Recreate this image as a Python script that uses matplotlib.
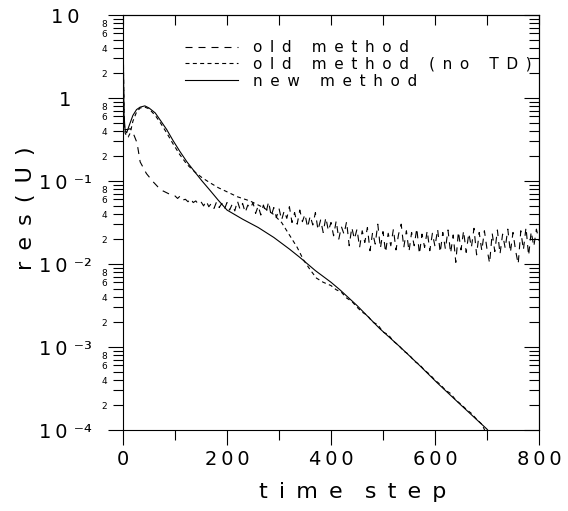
import numpy as np
import matplotlib
matplotlib.use('Agg')
import matplotlib.pyplot as plt

plt.rcParams['font.family'] = 'DejaVu Sans'

# ---- data (log10 of res(U)) ----
old_x_head = [0, 1, 2, 4, 8, 14, 20, 27, 33, 45, 58, 67, 77, 90]
old_log_head = [1.3, 0.2, -0.3, -0.38, -0.38, -0.37, -0.43, -0.54, -0.77, -0.91,
                -1.01, -1.07, -1.12, -1.16]
# noisy part, every 5 steps from 100 to 800
old_x_tail = np.arange(100, 805, 5)
old_log_tail = [
    -1.18, -1.21, -1.18, -1.23, -1.22, -1.25, -1.21, -1.26, -1.24, -1.28,
    -1.25, -1.30, -1.24, -1.31, -1.27, -1.33, -1.25, -1.32, -1.27, -1.34,
    -1.26, -1.35, -1.28, -1.36, -1.24, -1.34, -1.27, -1.38, -1.29, -1.33,
    -1.26, -1.39, -1.30, -1.41, -1.29, -1.38, -1.25, -1.42, -1.32, -1.44,
    -1.33, -1.47, -1.36, -1.45, -1.31, -1.50, -1.38, -1.52, -1.35, -1.49,
    -1.40, -1.56, -1.42, -1.53, -1.38, -1.59, -1.47, -1.62, -1.44, -1.60,
    -1.50, -1.66, -1.48, -1.70, -1.55, -1.64, -1.49, -1.78, -1.56, -1.70,
    -1.58, -1.80, -1.60, -1.74, -1.56, -1.84, -1.62, -1.76, -1.52, -1.81,
    -1.61, -1.86, -1.63, -1.78, -1.58, -1.83, -1.64, -1.52, -1.80, -1.60,
    -1.85, -1.62, -1.78, -1.57, -1.88, -1.64, -1.80, -1.60, -1.84, -1.63,
    -1.79, -1.58, -1.86, -1.62, -1.82, -1.59, -1.87, -1.65, -1.98, -1.61,
    -1.83, -1.60, -1.86, -1.63, -1.80, -1.57, -1.89, -1.62, -1.84, -1.60,
    -1.82, -1.99, -1.63, -1.85, -1.59, -1.88, -1.64, -1.81, -1.58, -1.86,
    -1.62, -1.84, -2.00, -1.60, -1.83, -1.56, -1.90, -1.61, -1.79, -1.58,
    -1.72]

notd_x = [0, 1, 2, 4, 7, 10, 14, 19, 26, 33, 42, 50, 62, 72, 84, 96, 109, 123,
          138, 152, 167, 183, 200, 220, 244, 270, 289, 305, 321, 335, 347, 360,
          372, 385, 400, 410, 420, 430, 440, 450, 460, 470, 480, 490, 500, 510,
          520, 530, 540, 550, 560, 570, 580, 590, 600, 610, 620, 630, 640, 650,
          660, 670, 680, 690, 697]
notd_log = [1.3, 0.3, -0.25, -0.42, -0.46, -0.47, -0.42, -0.28, -0.17, -0.12,
            -0.11, -0.13, -0.21, -0.30, -0.42, -0.55, -0.68, -0.80, -0.89, -0.96,
            -1.02, -1.08, -1.13, -1.19, -1.24, -1.32, -1.40, -1.50, -1.66, -1.80,
            -1.95, -2.07, -2.17, -2.22, -2.26, -2.31, -2.34, -2.41, -2.45, -2.52,
            -2.58, -2.62, -2.70, -2.73, -2.82, -2.85, -2.93, -2.98, -3.05, -3.09,
            -3.17, -3.21, -3.28, -3.33, -3.40, -3.45, -3.52, -3.56, -3.64, -3.69,
            -3.75, -3.80, -3.87, -3.93, -4.02]

new_x = [0, 1, 2, 4, 7, 12, 19, 26, 33, 42, 50, 62, 72, 84, 96, 109, 123, 138,
         152, 167, 183, 200, 230, 260, 290, 320, 340, 370, 400, 417, 450, 494,
         533, 570, 604, 650, 700, 705]
new_log = [1.3, 0.3, -0.2, -0.39, -0.42, -0.33, -0.21, -0.14, -0.11, -0.095,
           -0.12, -0.18, -0.27, -0.38, -0.51, -0.64, -0.77, -0.89, -1.0, -1.11,
           -1.23, -1.35, -1.46, -1.56, -1.68, -1.82, -1.92, -2.08, -2.22, -2.31,
           -2.5, -2.78, -3.0, -3.22, -3.43, -3.70, -3.99, -4.03]

legend_labels = ['old method', 'old method (no TD)', 'new method']

xtick_vals = [0, 200, 400, 600, 800]
xtick_minor = [100, 300, 500, 700]
ytick_vals = [1e-4, 1e-3, 1e-2, 1e-1, 1, 10]
ytick_labels = ['1\u20090 \u207b\u2074', '1\u20090 \u207b\u00b3', '1\u20090 \u207b\u00b2',
                '1\u20090 \u207b\u00b9', '1', '1\u20090']

THIN = '\u2009'
EN = '\u2002'


def spaced(text, gap=THIN, word_gap=THIN + '  ' + THIN):
    return word_gap.join(gap.join(w) for w in text.split(' '))


fig = plt.figure(figsize=(5.68, 5.11), dpi=100)
ax = fig.add_axes([123 / 568, 1 - 430 / 511, 416 / 568, 415 / 511])

old_x = np.concatenate([old_x_head, old_x_tail])
old_log = np.concatenate([old_log_head, old_log_tail])

lw = 0.8
leg_gap = EN + ' ' + EN
ax.plot(old_x, 10 ** old_log, color='k', lw=lw, dashes=(6.3, 5.4),
        label=spaced(legend_labels[0], EN, leg_gap))
ax.plot(notd_x, 10 ** np.array(notd_log), color='k', lw=lw, dashes=(3.6, 3.0),
        label=spaced(legend_labels[1], EN, leg_gap))
ax.plot(new_x, 10 ** np.array(new_log), color='k', lw=lw,
        label=spaced(legend_labels[2], EN, leg_gap))

ax.set_yscale('log')
ax.set_xlim(0, 800)
ax.set_ylim(1e-4, 10)

# ticks
ax.set_xticks(xtick_vals, [THIN.join(str(v)) for v in xtick_vals])
ax.set_xticks(xtick_minor, minor=True)
ax.set_yticks(ytick_vals, ytick_labels)
ymin = [k * 10.0 ** e for e in range(-4, 1) for k in range(2, 10)]
ax.set_yticks(ymin, [str(k) if k % 2 == 0 else '' for e in range(-4, 1) for k in range(2, 10)],
              minor=True)

ax.tick_params(axis='x', which='major', direction='out', length=10.8, width=lw,
               labelsize=14, pad=3.5)
ax.tick_params(axis='x', which='minor', direction='out', length=7.2, width=lw)
ax.tick_params(axis='y', which='major', direction='out', length=10.8, width=lw,
               labelsize=14, pad=31)
ax.tick_params(axis='y', which='minor', direction='out', length=7.2, width=lw,
               labelsize=6.5, pad=4)
for lbl in ax.get_yticklabels():
    lbl.set_horizontalalignment('center')

top = ax.secondary_xaxis('top')
top.set_xticks(range(0, 801, 100))
top.tick_params(direction='in', length=7.2, width=lw, labeltop=False)

right = ax.secondary_yaxis('right')
right.set_yticks(ytick_vals)
right.set_yticks(ymin, minor=True)
right.tick_params(which='major', direction='in', length=10.8, width=lw)
right.tick_params(which='minor', direction='in', length=7.2, width=lw)
right.tick_params(which='both', labelright=False)

for a in (ax, top, right):
    for s in a.spines.values():
        s.set_linewidth(lw)

ax.set_xlabel(spaced('time step', EN, EN * 2), fontsize=16)
ax.xaxis.set_label_coords(0.553, -0.125)
ax.set_ylabel(spaced('res(U)', EN), fontsize=16)
ax.yaxis.set_label_coords(-0.21, 0.535)

ax.legend(loc='upper left', bbox_to_anchor=(0.149, 0.94), frameon=False,
          fontsize=11, handlelength=3.46, handletextpad=1.0, labelspacing=0.12,
          borderpad=0, borderaxespad=0)

fig.savefig('out.png', dpi=100)
